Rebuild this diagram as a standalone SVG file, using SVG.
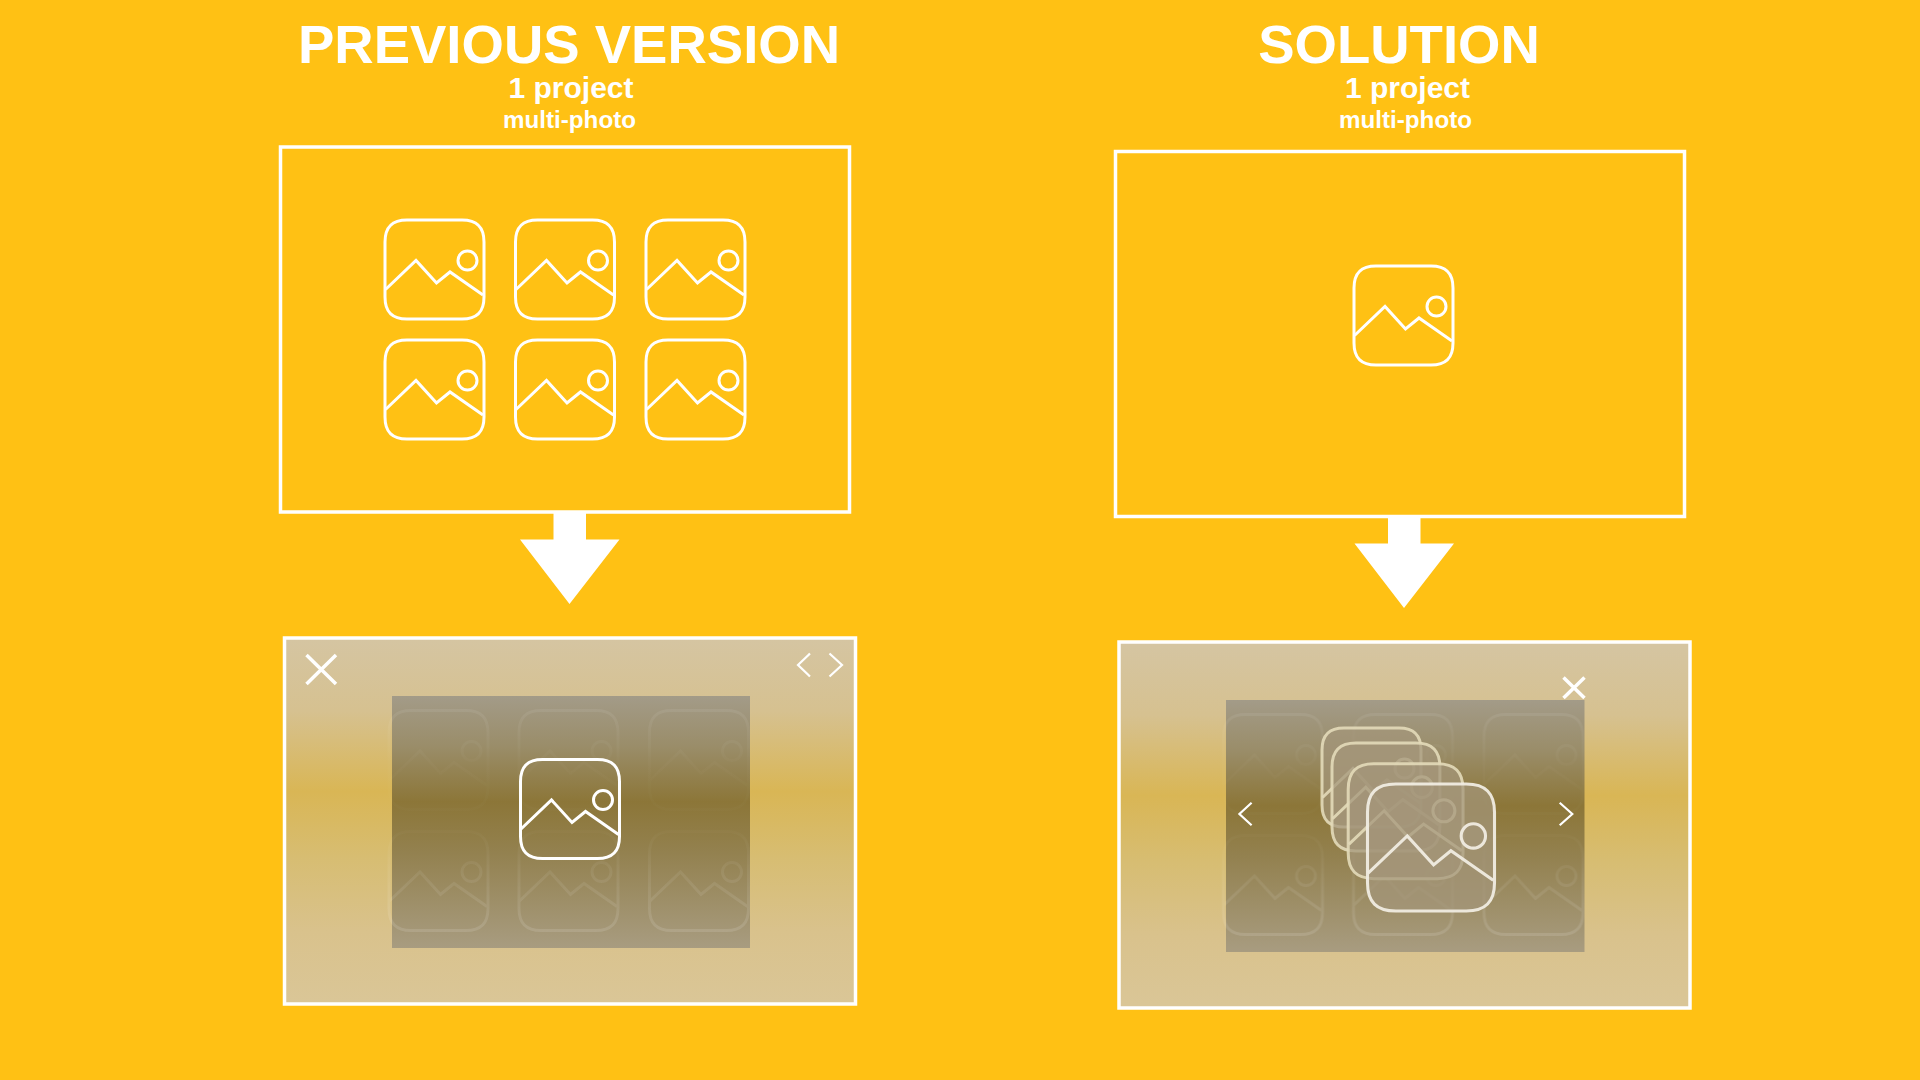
<svg xmlns="http://www.w3.org/2000/svg" xmlns:xlink="http://www.w3.org/1999/xlink" width="1920" height="1080" viewBox="0 0 1920 1080">
<style>
text{font-family:"Liberation Sans",Arial,sans-serif;font-weight:700;fill:#fff;text-anchor:middle}
.t1{font-size:54.500px}.t2{font-size:30px}.t3{font-size:24.200px}
.frame{fill:none;stroke:#fff;stroke-width:3.500}
.ic{stroke:#fff;stroke-width:3;fill:none}
.ctl{fill:none;stroke:#fff;stroke-width:3.500}
.chev{fill:none;stroke:#fff;stroke-width:2.200}
</style>
<defs>
<linearGradient id="bg" x1="0" y1="0" x2="0" y2="1">
<stop offset="0" stop-color="#D5C5A2"/><stop offset=".2" stop-color="#D6C190"/><stop offset=".42" stop-color="#D9B655"/><stop offset=".6" stop-color="#D7BD72"/><stop offset=".8" stop-color="#D9C28C"/><stop offset="1" stop-color="#DAC697"/>
</linearGradient>
<linearGradient id="dk" x1="0" y1="0" x2="0" y2="1">
<stop offset="0" stop-color="#A39B88"/><stop offset=".2" stop-color="#9A8D69"/><stop offset=".42" stop-color="#8C7638"/><stop offset=".62" stop-color="#93814F"/><stop offset="1" stop-color="#A89C80"/>
</linearGradient>
<linearGradient id="fadeG" gradientUnits="userSpaceOnUse" x1="0" y1="700" x2="0" y2="950">
<stop offset="0" stop-color="#fff" stop-opacity=".08"/><stop offset=".25" stop-color="#fff" stop-opacity=".02"/><stop offset=".5" stop-color="#fff" stop-opacity=".012"/><stop offset=".7" stop-color="#fff" stop-opacity=".07"/><stop offset="1" stop-color="#fff" stop-opacity=".14"/>
</linearGradient>
<mask id="fade" maskUnits="userSpaceOnUse" x="300" y="690" width="500" height="270"><rect x="300" y="690" width="500" height="270" fill="url(#fadeG)"/></mask>
<g id="pic">
<path d="M22 0H77C92 0 99 7 99 22V77C99 92 92 99 77 99H22C7 99 0 92 0 77V22C0 7 7 0 22 0Z"/>
<path d="M0.500 69.500L31 40.500L51.500 63L65 52L98 75" fill="none"/>
<circle cx="82.500" cy="40.500" r="9.500"/>
</g>
<g id="six">
<use xlink:href="#pic" href="#pic" x="389" y="710.500"/>
<use xlink:href="#pic" href="#pic" x="519" y="710.500"/>
<use xlink:href="#pic" href="#pic" x="649.500" y="710.500"/>
<use xlink:href="#pic" href="#pic" x="389" y="831.500"/>
<use xlink:href="#pic" href="#pic" x="519" y="831.500"/>
<use xlink:href="#pic" href="#pic" x="649.500" y="831.500"/>
</g>
</defs>
<rect width="1920" height="1080" fill="#FFC114"/>

<g id="titles">
<text class="t1" x="569" y="63">PREVIOUS VERSION</text>
<text class="t2" x="571" y="98">1 project</text>
<text class="t3" x="569.500" y="128">multi-photo</text>
<text class="t1" x="1399" y="63">SOLUTION</text>
<text class="t2" x="1407.500" y="98">1 project</text>
<text class="t3" x="1405.500" y="128">multi-photo</text>
</g>

<g id="prev-grid">
<rect class="frame" x="280.500" y="147" width="569" height="365"/>
<g class="ic">
<use xlink:href="#pic" href="#pic" x="385" y="220"/>
<use xlink:href="#pic" href="#pic" x="515.500" y="220"/>
<use xlink:href="#pic" href="#pic" x="646" y="220"/>
<use xlink:href="#pic" href="#pic" x="385" y="340"/>
<use xlink:href="#pic" href="#pic" x="515.500" y="340"/>
<use xlink:href="#pic" href="#pic" x="646" y="340"/>
</g>
</g>

<g id="sol-grid">
<rect class="frame" x="1115.500" y="151.500" width="569" height="365"/>
<use class="ic" xlink:href="#pic" href="#pic" x="1354" y="266"/>
</g>

<g id="connectors" fill="#fff">
<polygon id="arrow-prev" points="553.500,511 586,511 586,539.500 619.500,539.500 569.500,604 520,539.500 553.500,539.500"/>
<polygon id="arrow-sol" points="1388,515 1420.500,515 1420.500,543.500 1454,543.500 1404,608 1354.500,543.500 1388,543.500"/>
</g>

<g id="prev-viewer">
<rect x="284.500" y="638" width="571" height="366" fill="url(#bg)" stroke="#fff" stroke-width="3.500"/>
<rect x="392" y="696" width="358" height="252" fill="url(#dk)"/>
<g class="ic" mask="url(#fade)"><use xlink:href="#six" href="#six"/></g>
<use class="ic" xlink:href="#pic" href="#pic" x="520.500" y="759.500"/>
<path class="ctl" d="M306.500 655L336 684M336 655L306.500 684"/>
<path class="chev" d="M810 653.500L798 665L810 676.500M829.500 653.500L842 665L829.500 676.500"/>
</g>

<g id="sol-viewer">
<rect x="1119" y="642" width="571" height="366" fill="url(#bg)" stroke="#fff" stroke-width="3.500"/>
<rect x="1226" y="700" width="358.500" height="252" fill="url(#dk)"/>
<g transform="translate(834.500 4)"><g class="ic" mask="url(#fade)"><use xlink:href="#six" href="#six"/></g></g>
<g fill="#A3957A" fill-opacity=".72" stroke="#E3DAB9" style="stroke-opacity:.9">
<g transform="translate(1322 728)" stroke-width="3"><use xlink:href="#pic" href="#pic"/></g>
<g transform="translate(1332 743) scale(1.090)" stroke-width="2.750"><use xlink:href="#pic" href="#pic"/></g>
<g transform="translate(1348.200 763.800) scale(1.160)" stroke-width="2.600"><use xlink:href="#pic" href="#pic"/></g>
<g transform="translate(1367.500 784) scale(1.283)" stroke-width="2.400" stroke="#F0ECE2" style="stroke-opacity:.95"><use xlink:href="#pic" href="#pic"/></g>
</g>
<path class="ctl" d="M1563.500 677.500L1584.500 698M1584.500 677.500L1563.500 698"/>
<path class="chev" d="M1251.600 802.700L1239.400 814L1251.600 825.300M1559.700 802.700L1572.300 814L1559.700 825.300"/>
</g>
</svg>
